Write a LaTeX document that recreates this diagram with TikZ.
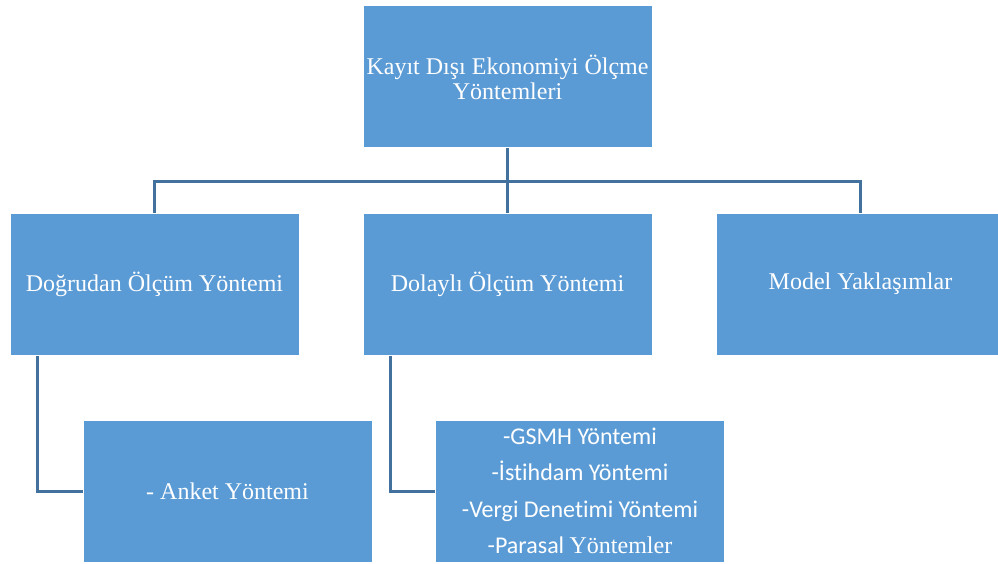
\documentclass[tikz,border=0pt]{standalone}
\usepackage{fontspec}
\setmainfont{Liberation Serif}
\newfontfamily\calfont[Ligatures=NoCommon]{Carlito}
\newfontfamily\serfont{Liberation Serif}
\definecolor{boxblue}{HTML}{5B9BD5}
\definecolor{lineblue}{HTML}{41719C}

\begin{document}
\begin{tikzpicture}[
    x=1pt, y=-1pt,
    every node/.style={rectangle, fill=boxblue, draw=white, line width=1pt,
        minimum width=289pt, minimum height=142pt, text=white, align=center,
        inner sep=2pt, font=\fontsize{24}{25}\selectfont},
    link/.style={draw=lineblue, line width=3pt}
]
\useasboundingbox (0,0) rectangle (998,564);

\node (root) at (507.5,77) {Kayıt Dışı Ekonomiyi Ölçme\\Yöntemleri};
\node (dogrudan) at (154.5,284) {Doğrudan Ölçüm Yöntemi};
\node (dolayli) at (507.5,284) {Dolaylı Ölçüm Yöntemi};
\node (model) at (860.5,284) {Model Yaklaşımlar};
\node (anket) at (227.5,491) {- Anket Yöntemi};
\node[font=\calfont\fontsize{24}{36.5}\selectfont] (yontem) at (580,491)
    {-GSMH Yöntemi\\-İstihdam Yöntemi\\-Vergi Denetimi Yöntemi\\-Parasal {\serfont Yöntemler}};

\draw[link] (root.south) -- ++(0,33) -| (dogrudan.north);
\draw[link] (root.south) -- ++(0,33) -| (dolayli.north);
\draw[link] (root.south) -- ++(0,33) -| (model.north);
\draw[link] ([xshift=28pt]dogrudan.south west) |- (anket.west);
\draw[link] ([xshift=28pt]dolayli.south west) |- (yontem.west);
\end{tikzpicture}
\end{document}
